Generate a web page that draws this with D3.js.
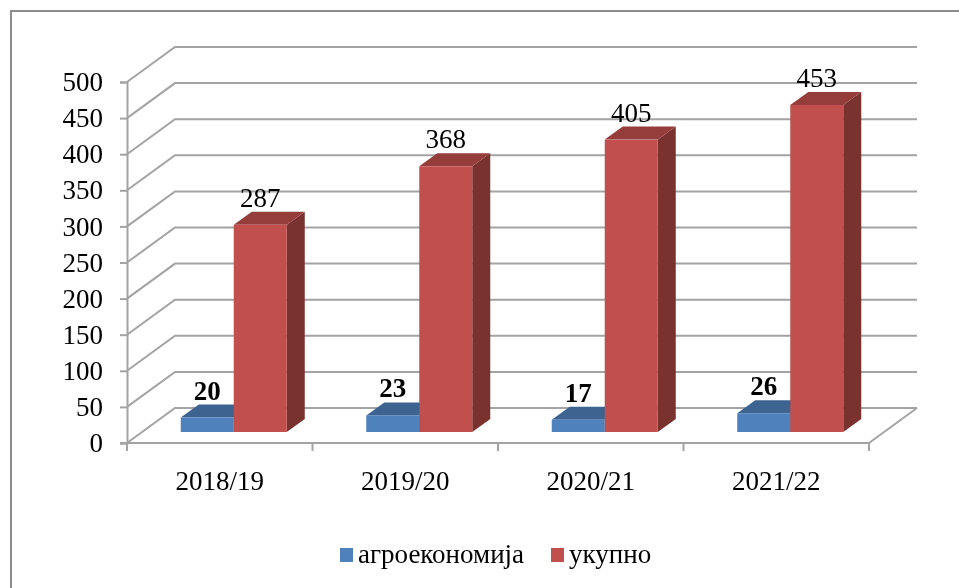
<!DOCTYPE html>
<html>
<head>
<meta charset="utf-8">
<script src="https://cdn.jsdelivr.net/npm/d3@7"></script>
<style>
  html, body { margin: 0; padding: 0; background: #fff; }
  svg { display: block; }
  text { font-family: "Liberation Serif", serif; fill: #000; }
</style>
</head>
<body>
<div id="chart"></div>
<script>
let categories = ["2018/19", "2019/20", "2020/21", "2021/22"];
let seriesNames = ["агроекономија", "укупно"];
let agroValues = [20, 23, 17, 26];
let totalValues = [287, 368, 405, 453];
let yTicks = [0, 50, 100, 150, 200, 250, 300, 350, 400, 450, 500];

let seriesColors = [
  { front: "#4f81bd", top: "#3d6491", side: "#2f4d70" }
  , { front: "#c0504d", top: "#953d3b", side: "#7a302e" }
];

let width = 959, height = 588;
let margin = { left: 127, right: 90, top: 82, bottom: 145 };
// wall depth of the 3d box, and how far the bars stand in from the front edge
let depthX = 48, depthY = 35;
let barInsetX = 14, barInsetY = 11;
let barDepthX = 18, barDepthY = 13;
let gridColor = "#a3a3a3";
let fontSize = 27;

let svg = d3.select("#chart").append("svg")
  .attr("width", width)
  .attr("height", height);

// the reference is a soft scan, a small blur gets the same look
svg.append("filter")
  .attr("id", "soft")
  .attr("x", 0).attr("y", 0).attr("width", "100%").attr("height", "100%")
  .append("feGaussianBlur")
  .attr("stdDeviation", 0.45);

let root = svg.append("g").attr("filter", "url(#soft)");

root.append("rect")
  .attr("width", width)
  .attr("height", height)
  .attr("fill", "#fff");

// outer frame runs off the right and bottom of the picture
root.append("path")
  .attr("d", "M11,588V11H959")
  .attr("fill", "none")
  .attr("stroke", "#8c8c8c")
  .attr("stroke-width", 2);

let x = d3.scaleBand()
  .domain(categories)
  .range([margin.left, width - margin.right]);

// the two bars touch and are centred on the band
let xInner = d3.scaleBand()
  .domain(seriesNames)
  .range([-53, 53]);

let y = d3.scaleLinear()
  .domain([0, 500])
  .range([height - margin.bottom, margin.top]);

let line = d3.line();

//gridlines go back along the side wall and then across the back wall
let grid = root.append("g").attr("class", "grid");
grid.selectAll("path")
  .data(yTicks)
  .enter()
  .append("path")
  .attr("d", function(d) {
    return line([
      [margin.left, y(d)]
      , [margin.left + depthX, y(d) - depthY]
      , [width - margin.right + depthX, y(d) - depthY]
    ]);
  })
  .attr("fill", "none")
  .attr("stroke", gridColor)
  .attr("stroke-width", 2);

// right edge of the floor
grid.append("path")
  .attr("d", line([
    [width - margin.right, y(0)]
    , [width - margin.right + depthX, y(0) - depthY]
  ]))
  .attr("fill", "none")
  .attr("stroke", gridColor)
  .attr("stroke-width", 2);

let yAxis = d3.axisLeft(y).tickValues(yTicks).tickSize(7).tickPadding(17);
let yAxisG = root.append("g")
  .attr("transform", "translate(" + margin.left + ",0)")
  .call(yAxis);

let xAxis = d3.axisBottom(x).tickSize(8).tickPadding(20);
let xAxisG = root.append("g")
  .attr("transform", "translate(0," + y(0) + ")")
  .call(xAxis);

// band ticks sit mid band by default, the picture has them between the categories
xAxisG.selectAll(".tick line").remove();
xAxisG.selectAll(".edge")
  .data(x.domain().map(function(d) { return x(d); }).concat([x.range()[1]]))
  .enter()
  .append("line")
  .attr("x1", function(d) { return d; })
  .attr("x2", function(d) { return d; })
  .attr("y1", 0)
  .attr("y2", 8);

[yAxisG, xAxisG].forEach(function(g) {
  g.select(".domain").attr("stroke", gridColor).attr("stroke-width", 2);
  g.selectAll("line").attr("stroke", gridColor).attr("stroke-width", 2);
  g.selectAll("text").attr("font-family", "Liberation Serif").attr("font-size", fontSize).attr("fill", "#000");
});
xAxisG.select(".domain").attr("d", "M" + (margin.left - 7) + ",0H" + x.range()[1]);

function drawBar(group, category, name, value, color) {
  let left = x(category) + x.bandwidth() / 2 + xInner(name) + barInsetX;
  let right = left + xInner.bandwidth();
  let top = y(value) - barInsetY;
  let bottom = y(0) - barInsetY;

  group.append("path")
    .attr("d", line([[right, top], [right + barDepthX, top - barDepthY], [right + barDepthX, bottom - barDepthY], [right, bottom]]) + "Z")
    .attr("fill", color.side);
  group.append("path")
    .attr("d", line([[left, top], [left + barDepthX, top - barDepthY], [right + barDepthX, top - barDepthY], [right, top]]) + "Z")
    .attr("fill", color.top);
  group.append("rect")
    .attr("x", left)
    .attr("y", top)
    .attr("width", right - left)
    .attr("height", bottom - top)
    .attr("fill", color.front);

  return { center: (left + right) / 2, top: top };
}

let labelLayer = [];
categories.forEach(function(category, i) {
  let g = root.append("g").attr("class", "bars");
  let a = drawBar(g, category, seriesNames[0], agroValues[i], seriesColors[0]);
  let b = drawBar(g, category, seriesNames[1], totalValues[i], seriesColors[1]);
  labelLayer.push({ x: a.center, y: a.top - 18, text: agroValues[i], bold: true });
  labelLayer.push({ x: b.center, y: b.top - 18, text: totalValues[i], bold: false });
});

root.append("g").selectAll("text")
  .data(labelLayer)
  .enter()
  .append("text")
  .attr("x", function(d) { return d.x; })
  .attr("y", function(d) { return d.y; })
  .attr("text-anchor", "middle")
  .attr("font-size", fontSize)
  .attr("font-weight", function(d) { return d.bold ? "bold" : "normal"; })
  .text(function(d) { return d.text; });

//legend
let legendX = [340, 551];
let legend = root.append("g").selectAll("g")
  .data(seriesNames)
  .enter()
  .append("g")
  .attr("transform", function(d, i) { return "translate(" + legendX[i] + ",548)"; });

legend.append("rect")
  .attr("width", 13)
  .attr("height", 14)
  .attr("fill", function(d, i) { return seriesColors[i].front; });

legend.append("text")
  .attr("x", 18)
  .attr("y", 15)
  .attr("font-size", fontSize)
  .text(function(d) { return d; });
</script>
</body>
</html>
